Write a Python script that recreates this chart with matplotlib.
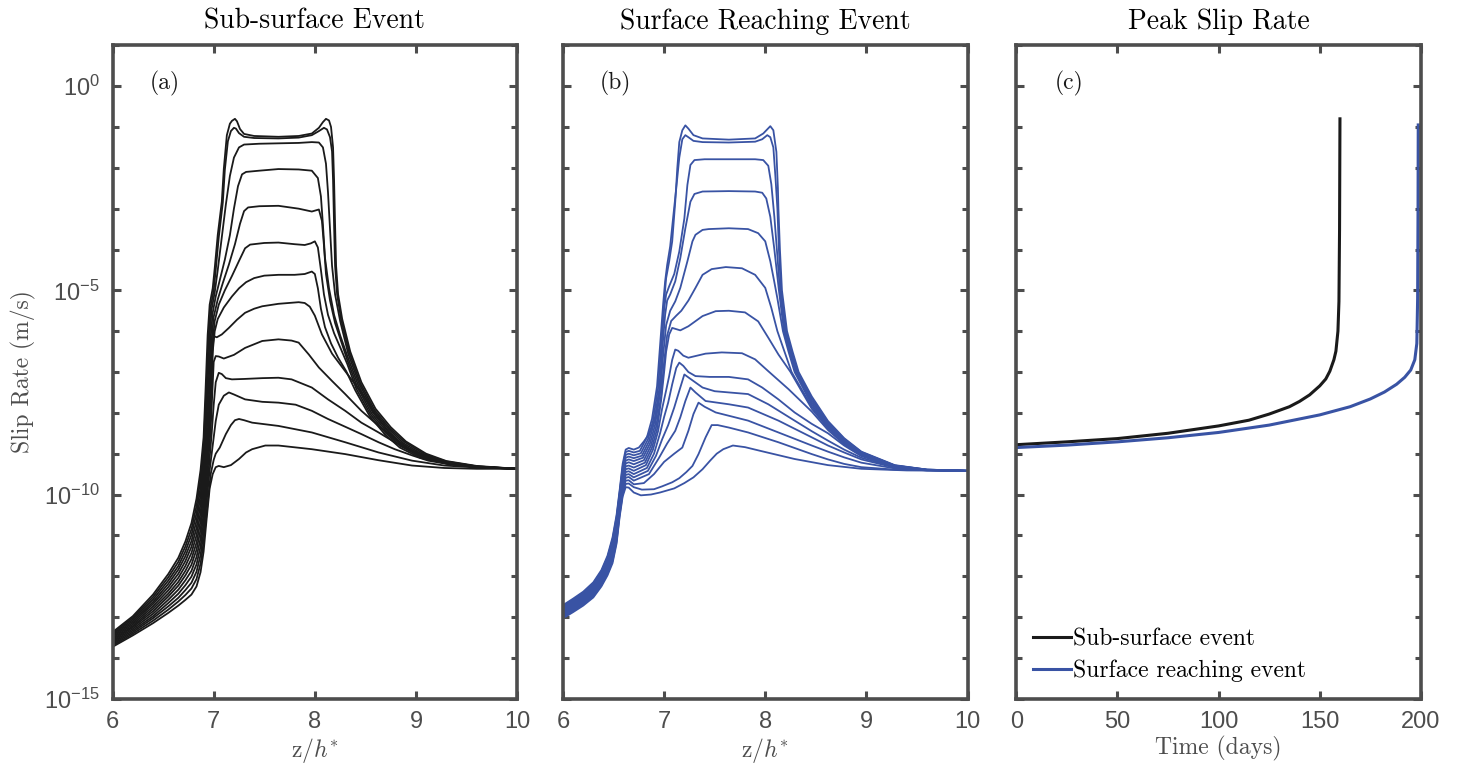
import numpy as np
import matplotlib
matplotlib.use("Agg")
import matplotlib.pyplot as plt
from matplotlib.ticker import FixedLocator, FixedFormatter, NullFormatter

plt.rcParams['mathtext.fontset'] = 'cm'

# slip-rate profiles, (z/h*, log10 V) pairs, one list per snapshot
sub_profiles = [
    [(6.0,-13.37),(6.2,-12.98),(6.4,-12.45),(6.55,-11.95),(6.65,-11.55),(6.72,-11.15),(6.78,-10.7),(6.83,-10.1),(6.87,-9.4),(6.9,-8.6),(6.92,-7.4),(6.94,-6.1),(6.96,-5.35),(6.99,-4.95),(7.01,-4.46),(7.04,-3.64),(7.08,-2.83),(7.10,-2.02),(7.13,-1.2),(7.16,-0.92),(7.18,-0.85),(7.21,-0.80),(7.23,-0.86),(7.26,-1.05),(7.3,-1.17),(7.4,-1.22),(7.64,-1.24),(7.84,-1.22),(7.97,-1.16),(8.04,-1.02),(8.08,-0.88),(8.11,-0.80),(8.14,-0.84),(8.16,-1.0),(8.18,-1.5),(8.19,-2.3),(8.2,-3.4),(8.21,-4.4),(8.23,-5.1),(8.27,-5.7),(8.35,-6.5),(8.46,-7.25),(8.6,-7.9),(8.75,-8.35),(8.9,-8.7),(9.1,-9.0),(9.3,-9.18),(9.6,-9.3),(10.0,-9.37)],
    [(6.0,-13.40),(6.2,-13.02),(6.4,-12.51),(6.55,-12.03),(6.65,-11.65),(6.72,-11.27),(6.78,-10.85),(6.83,-10.28),(6.87,-9.61),(6.9,-8.83),(6.93,-7.3),(6.95,-6.1),(6.97,-5.4),(7.0,-5.0),(7.02,-4.5),(7.05,-3.7),(7.09,-2.85),(7.11,-2.05),(7.14,-1.35),(7.17,-1.1),(7.2,-1.02),(7.22,-1.04),(7.25,-1.15),(7.3,-1.24),(7.4,-1.27),(7.64,-1.28),(7.84,-1.26),(7.97,-1.2),(8.04,-1.1),(8.09,-1.02),(8.12,-1.06),(8.15,-1.25),(8.17,-1.6),(8.18,-2.3),(8.19,-3.4),(8.2,-4.4),(8.22,-5.1),(8.26,-5.72),(8.34,-6.52),(8.45,-7.28),(8.59,-7.93),(8.74,-8.38),(8.89,-8.72),(9.09,-9.02),(9.3,-9.19),(9.6,-9.31),(10.0,-9.37)],
    [(6.0,-13.43),(6.2,-13.06),(6.4,-12.57),(6.55,-12.11),(6.65,-11.75),(6.72,-11.39),(6.78,-10.99),(6.83,-10.46),(6.87,-9.82),(6.9,-9.07),(6.94,-7.3),(6.96,-6.1),(6.98,-5.45),(7.01,-5.05),(7.04,-4.5),(7.08,-3.7),(7.12,-2.9),(7.16,-2.2),(7.2,-1.75),(7.25,-1.5),(7.3,-1.43),(7.45,-1.41),(7.64,-1.40),(7.84,-1.39),(7.97,-1.37),(8.04,-1.38),(8.08,-1.5),(8.11,-1.9),(8.13,-2.6),(8.15,-3.5),(8.17,-4.4),(8.2,-5.1),(8.25,-5.75),(8.33,-6.55),(8.44,-7.3),(8.58,-7.95),(8.73,-8.4),(8.88,-8.75),(9.08,-9.04),(9.3,-9.2),(9.6,-9.31),(10.0,-9.37)],
    [(6.0,-13.46),(6.2,-13.10),(6.4,-12.63),(6.55,-12.19),(6.65,-11.84),(6.72,-11.51),(6.78,-11.14),(6.83,-10.64),(6.87,-10.02),(6.9,-9.30),(6.92,-8.5),(6.95,-7.3),(6.97,-6.15),(6.99,-5.55),(7.02,-5.15),(7.06,-4.75),(7.11,-4.25),(7.16,-3.65),(7.2,-3.0),(7.24,-2.45),(7.28,-2.16),(7.32,-2.1),(7.45,-2.07),(7.64,-2.03),(7.84,-2.04),(7.97,-2.07),(8.03,-2.25),(8.06,-2.7),(8.08,-3.4),(8.1,-4.2),(8.14,-4.95),(8.19,-5.6),(8.25,-6.1),(8.32,-6.6),(8.43,-7.33),(8.57,-7.98),(8.72,-8.43),(8.87,-8.78),(9.07,-9.06),(9.3,-9.21),(9.6,-9.32),(10.0,-9.37)],
    [(6.0,-13.49),(6.2,-13.14),(6.4,-12.68),(6.55,-12.27),(6.65,-11.94),(6.72,-11.63),(6.78,-11.28),(6.83,-10.82),(6.87,-10.23),(6.9,-9.53),(6.93,-8.5),(6.96,-7.3),(6.98,-6.2),(7.0,-5.65),(7.04,-5.22),(7.09,-4.82),(7.15,-4.37),(7.21,-3.87),(7.26,-3.37),(7.3,-3.06),(7.34,-2.97),(7.45,-2.94),(7.64,-2.93),(7.84,-3.0),(7.97,-3.07),(8.04,-3.02),(8.07,-3.3),(8.09,-3.9),(8.11,-4.6),(8.15,-5.25),(8.2,-5.8),(8.26,-6.25),(8.32,-6.7),(8.42,-7.37),(8.56,-8.01),(8.71,-8.46),(8.86,-8.8),(9.06,-9.07),(9.3,-9.22),(9.6,-9.32),(10.0,-9.37)],
    [(6.0,-13.52),(6.2,-13.18),(6.4,-12.74),(6.55,-12.35),(6.65,-12.04),(6.72,-11.75),(6.78,-11.43),(6.83,-11.00),(6.87,-10.44),(6.9,-9.77),(6.94,-8.5),(6.97,-7.3),(6.99,-6.25),(7.01,-5.75),(7.05,-5.35),(7.11,-5.0),(7.18,-4.65),(7.25,-4.28),(7.31,-3.97),(7.36,-3.88),(7.5,-3.84),(7.64,-3.83),(7.8,-3.87),(7.9,-3.89),(7.96,-3.85),(8.0,-3.8),(8.03,-3.95),(8.06,-4.5),(8.09,-5.1),(8.13,-5.6),(8.19,-6.05),(8.26,-6.45),(8.32,-6.8),(8.41,-7.41),(8.55,-8.04),(8.7,-8.49),(8.85,-8.82),(9.05,-9.08),(9.3,-9.23),(9.6,-9.33),(10.0,-9.37)],
    [(6.0,-13.55),(6.2,-13.22),(6.4,-12.80),(6.55,-12.43),(6.65,-12.14),(6.72,-11.87),(6.78,-11.58),(6.83,-11.18),(6.87,-10.65),(6.9,-10.0),(6.92,-9.4),(6.95,-8.5),(6.97,-7.5),(6.99,-6.5),(7.01,-6.0),(7.04,-5.7),(7.1,-5.42),(7.18,-5.15),(7.25,-4.95),(7.32,-4.8),(7.4,-4.7),(7.5,-4.64),(7.64,-4.62),(7.8,-4.62),(7.9,-4.6),(7.97,-4.54),(8.0,-4.6),(8.03,-4.95),(8.06,-5.45),(8.1,-5.9),(8.16,-6.3),(8.23,-6.65),(8.31,-6.98),(8.4,-7.45),(8.54,-8.07),(8.69,-8.52),(8.84,-8.85),(9.04,-9.1),(9.3,-9.24),(9.6,-9.33),(10.0,-9.37)],
    [(6.0,-13.58),(6.2,-13.25),(6.4,-12.86),(6.55,-12.50),(6.65,-12.23),(6.72,-11.98),(6.78,-11.72),(6.83,-11.35),(6.87,-10.86),(6.9,-10.23),(6.93,-9.4),(6.96,-8.4),(6.98,-7.2),(6.99,-6.4),(7.0,-6.12),(7.03,-6.15),(7.08,-6.08),(7.15,-5.92),(7.23,-5.72),(7.31,-5.55),(7.4,-5.45),(7.48,-5.39),(7.64,-5.33),(7.84,-5.29),(7.9,-5.31),(7.95,-5.4),(8.0,-5.62),(8.07,-6.08),(8.17,-6.55),(8.3,-6.98),(8.46,-7.5),(8.6,-8.05),(8.74,-8.5),(8.9,-8.85),(9.1,-9.1),(9.3,-9.24),(9.6,-9.33),(10.0,-9.37)],
    [(6.0,-13.61),(6.2,-13.29),(6.4,-12.92),(6.55,-12.58),(6.65,-12.33),(6.72,-12.10),(6.78,-11.87),(6.83,-11.53),(6.87,-11.07),(6.9,-10.47),(6.94,-9.4),(6.97,-8.4),(6.99,-7.3),(7.0,-6.75),(7.02,-6.61),(7.05,-6.62),(7.1,-6.67),(7.2,-6.58),(7.31,-6.41),(7.48,-6.24),(7.64,-6.2),(7.77,-6.23),(7.84,-6.28),(7.94,-6.57),(8.04,-6.89),(8.17,-7.22),(8.3,-7.54),(8.46,-7.95),(8.63,-8.32),(8.79,-8.64),(8.96,-8.92),(9.15,-9.12),(9.35,-9.25),(9.6,-9.33),(10.0,-9.37)],
    [(6.0,-13.64),(6.2,-13.33),(6.4,-12.98),(6.55,-12.66),(6.65,-12.43),(6.72,-12.22),(6.78,-12.01),(6.83,-11.71),(6.87,-11.27),(6.9,-10.70),(6.95,-9.4),(6.98,-8.5),(7.0,-7.8),(7.02,-7.25),(7.05,-7.02),(7.08,-7.05),(7.12,-7.15),(7.18,-7.18),(7.3,-7.17),(7.48,-7.15),(7.64,-7.14),(7.77,-7.18),(7.97,-7.38),(8.13,-7.67),(8.3,-7.95),(8.46,-8.24),(8.63,-8.48),(8.79,-8.72),(8.96,-8.93),(9.28,-9.21),(9.6,-9.32),(10.0,-9.37)],
    [(6.0,-13.67),(6.2,-13.37),(6.4,-13.03),(6.55,-12.74),(6.65,-12.53),(6.72,-12.34),(6.78,-12.16),(6.83,-11.89),(6.87,-11.48),(6.9,-10.93),(6.96,-9.4),(6.99,-8.8),(7.02,-8.2),(7.05,-7.8),(7.1,-7.58),(7.15,-7.5),(7.2,-7.55),(7.31,-7.67),(7.48,-7.73),(7.64,-7.75),(7.81,-7.8),(7.97,-7.95),(8.13,-8.15),(8.3,-8.34),(8.46,-8.52),(8.63,-8.72),(8.79,-8.89),(8.96,-9.04),(9.12,-9.17),(9.35,-9.27),(9.61,-9.33),(10.0,-9.37)],
    [(6.0,-13.70),(6.2,-13.41),(6.4,-13.09),(6.55,-12.82),(6.65,-12.62),(6.72,-12.46),(6.78,-12.30),(6.83,-12.07),(6.87,-11.69),(6.9,-11.17),(6.97,-9.5),(7.0,-9.15),(7.02,-9.0),(7.06,-8.85),(7.12,-8.52),(7.17,-8.3),(7.21,-8.18),(7.25,-8.15),(7.3,-8.18),(7.38,-8.24),(7.64,-8.32),(7.97,-8.48),(8.3,-8.72),(8.63,-8.97),(8.96,-9.17),(9.28,-9.29),(9.61,-9.34),(10.0,-9.37)],
    [(6.0,-13.73),(6.2,-13.45),(6.4,-13.15),(6.55,-12.90),(6.65,-12.72),(6.72,-12.58),(6.78,-12.45),(6.83,-12.25),(6.87,-11.9),(6.9,-11.4),(6.93,-10.6),(6.96,-9.85),(6.99,-9.5),(7.02,-9.33),(7.05,-9.3),(7.1,-9.33),(7.17,-9.28),(7.25,-9.13),(7.32,-8.97),(7.38,-8.89),(7.51,-8.8),(7.64,-8.8),(7.97,-8.89),(8.3,-9.01),(8.63,-9.16),(8.96,-9.29),(9.28,-9.35),(9.6,-9.37),(10.0,-9.37)],
]

surf_profiles = [
    [(6.0,-12.71),(6.1,-12.55),(6.2,-12.38),(6.3,-12.15),(6.38,-11.85),(6.44,-11.5),(6.49,-11.05),(6.53,-10.5),(6.56,-9.9),(6.59,-9.25),(6.62,-8.9),(6.65,-8.86),(6.7,-8.9),(6.75,-8.85),(6.8,-8.7),(6.85,-8.52),(6.92,-8.11),(6.97,-7.3),(6.98,-6.08),(7.0,-5.27),(7.02,-4.7),(7.05,-4.29),(7.08,-3.8),(7.11,-2.83),(7.13,-2.02),(7.15,-1.37),(7.18,-1.08),(7.21,-0.96),(7.24,-1.04),(7.29,-1.2),(7.38,-1.28),(7.64,-1.31),(7.9,-1.28),(7.98,-1.16),(8.05,-0.98),(8.08,-1.08),(8.11,-1.61),(8.125,-2.5),(8.13,-3.0),(8.145,-4.0),(8.165,-5.0),(8.215,-6.0),(8.27,-6.5),(8.33,-7.0),(8.46,-7.6),(8.62,-8.2),(8.78,-8.62),(8.95,-8.95),(9.28,-9.28),(9.6,-9.39),(10.0,-9.42)],
    [(6.0,-12.73),(6.1,-12.58),(6.2,-12.41),(6.3,-12.18),(6.38,-11.88),(6.44,-11.54),(6.49,-11.10),(6.53,-10.55),(6.56,-9.95),(6.59,-9.32),(6.62,-8.96),(6.65,-8.93),(6.7,-8.97),(6.76,-8.93),(6.83,-8.6),(6.88,-8.15),(6.93,-7.35),(6.96,-6.35),(6.99,-5.35),(7.01,-4.78),(7.03,-4.38),(7.06,-3.92),(7.09,-3.2),(7.12,-2.5),(7.15,-1.75),(7.18,-1.3),(7.21,-1.2),(7.24,-1.25),(7.29,-1.34),(7.38,-1.37),(7.64,-1.38),(7.9,-1.36),(7.97,-1.3),(8.02,-1.2),(8.05,-1.25),(8.08,-1.5),(8.1,-2.2),(8.12,-3.0),(8.135,-4.0),(8.155,-5.0),(8.205,-6.0),(8.26,-6.5),(8.32,-7.0),(8.46,-7.65),(8.62,-8.23),(8.78,-8.64),(8.95,-8.96),(9.28,-9.29),(9.6,-9.39),(10.0,-9.42)],
    [(6.0,-12.76),(6.1,-12.60),(6.2,-12.43),(6.3,-12.21),(6.38,-11.91),(6.44,-11.57),(6.49,-11.15),(6.53,-10.61),(6.56,-10.0),(6.59,-9.39),(6.62,-9.03),(6.65,-9.0),(6.7,-9.04),(6.77,-8.99),(6.84,-8.65),(6.89,-8.2),(6.94,-7.4),(6.97,-6.4),(7.0,-5.45),(7.02,-5.1),(7.05,-4.9),(7.1,-4.6),(7.15,-4.05),(7.2,-3.24),(7.23,-2.42),(7.26,-1.93),(7.3,-1.81),(7.4,-1.79),(7.64,-1.79),(7.9,-1.79),(7.98,-1.81),(8.03,-1.95),(8.06,-2.4),(8.09,-3.2),(8.115,-4.0),(8.145,-5.0),(8.195,-6.0),(8.25,-6.5),(8.31,-7.0),(8.46,-7.7),(8.62,-8.26),(8.78,-8.66),(8.95,-8.97),(9.28,-9.29),(9.6,-9.39),(10.0,-9.42)],
    [(6.0,-12.78),(6.1,-12.63),(6.2,-12.46),(6.3,-12.24),(6.38,-11.94),(6.44,-11.61),(6.49,-11.20),(6.53,-10.66),(6.56,-10.05),(6.59,-9.45),(6.62,-9.1),(6.65,-9.07),(6.7,-9.11),(6.78,-9.05),(6.85,-8.7),(6.9,-8.25),(6.95,-7.45),(6.98,-6.5),(7.01,-5.6),(7.03,-5.25),(7.06,-5.1),(7.11,-4.78),(7.16,-4.21),(7.21,-3.48),(7.26,-2.83),(7.3,-2.64),(7.38,-2.58),(7.64,-2.57),(7.9,-2.58),(7.97,-2.61),(8.01,-2.75),(8.05,-3.2),(8.09,-4.0),(8.135,-5.0),(8.185,-6.0),(8.24,-6.5),(8.3,-7.0),(8.46,-7.75),(8.62,-8.29),(8.78,-8.68),(8.95,-8.98),(9.28,-9.3),(9.6,-9.4),(10.0,-9.42)],
    [(6.0,-12.81),(6.1,-12.65),(6.2,-12.48),(6.3,-12.26),(6.38,-11.97),(6.44,-11.65),(6.49,-11.24),(6.53,-10.72),(6.56,-10.1),(6.59,-9.52),(6.62,-9.17),(6.65,-9.14),(6.7,-9.18),(6.79,-9.1),(6.86,-8.75),(6.91,-8.3),(6.96,-7.5),(6.99,-6.6),(7.02,-5.85),(7.06,-5.5),(7.11,-5.27),(7.16,-4.94),(7.23,-4.29),(7.28,-3.8),(7.31,-3.64),(7.38,-3.52),(7.44,-3.5),(7.64,-3.48),(7.83,-3.5),(7.93,-3.6),(8.0,-3.8),(8.05,-4.29),(8.09,-4.8),(8.12,-5.2),(8.175,-6.0),(8.23,-6.5),(8.29,-7.0),(8.46,-7.8),(8.62,-8.32),(8.78,-8.7),(8.95,-8.99),(9.28,-9.3),(9.6,-9.4),(10.0,-9.42)],
    [(6.0,-12.83),(6.1,-12.68),(6.2,-12.51),(6.3,-12.29),(6.38,-12.00),(6.44,-11.68),(6.49,-11.29),(6.53,-10.77),(6.56,-10.15),(6.59,-9.58),(6.62,-9.24),(6.65,-9.21),(6.7,-9.26),(6.8,-9.16),(6.87,-8.8),(6.92,-8.35),(6.97,-7.6),(7.0,-6.75),(7.03,-6.1),(7.07,-5.75),(7.12,-5.62),(7.17,-5.5),(7.24,-5.25),(7.31,-4.94),(7.38,-4.62),(7.47,-4.48),(7.61,-4.43),(7.77,-4.46),(7.9,-4.62),(8.0,-4.94),(8.06,-5.43),(8.12,-6.0),(8.19,-6.5),(8.26,-7.0),(8.46,-7.85),(8.62,-8.35),(8.78,-8.72),(8.95,-9.0),(9.28,-9.31),(9.6,-9.4),(10.0,-9.42)],
    [(6.0,-12.86),(6.1,-12.70),(6.2,-12.54),(6.3,-12.32),(6.38,-12.03),(6.44,-11.72),(6.49,-11.34),(6.53,-10.82),(6.56,-10.2),(6.59,-9.64),(6.62,-9.31),(6.65,-9.29),(6.7,-9.34),(6.81,-9.22),(6.88,-8.85),(6.93,-8.4),(6.97,-7.7),(7.0,-7.0),(7.02,-6.5),(7.05,-6.08),(7.08,-5.92),(7.12,-5.95),(7.16,-5.98),(7.24,-5.88),(7.38,-5.63),(7.51,-5.51),(7.64,-5.5),(7.8,-5.54),(7.93,-5.76),(8.03,-6.16),(8.13,-6.57),(8.25,-7.0),(8.46,-7.9),(8.62,-8.38),(8.78,-8.74),(8.95,-9.02),(9.28,-9.31),(9.6,-9.4),(10.0,-9.42)],
    [(6.0,-12.88),(6.1,-12.73),(6.2,-12.56),(6.3,-12.35),(6.38,-12.07),(6.44,-11.76),(6.49,-11.39),(6.53,-10.88),(6.56,-10.25),(6.59,-9.7),(6.62,-9.38),(6.65,-9.36),(6.7,-9.42),(6.82,-9.28),(6.89,-8.9),(6.94,-8.45),(6.98,-7.9),(7.02,-7.45),(7.05,-7.1),(7.08,-6.7),(7.11,-6.45),(7.14,-6.48),(7.19,-6.6),(7.24,-6.65),(7.41,-6.55),(7.57,-6.52),(7.77,-6.54),(7.9,-6.69),(8.03,-6.98),(8.23,-7.42),(8.46,-7.97),(8.62,-8.42),(8.78,-8.77),(8.95,-9.04),(9.28,-9.32),(9.6,-9.4),(10.0,-9.42)],
    [(6.0,-12.91),(6.1,-12.75),(6.2,-12.59),(6.3,-12.38),(6.38,-12.10),(6.44,-11.80),(6.49,-11.44),(6.53,-10.93),(6.56,-10.3),(6.59,-9.76),(6.62,-9.45),(6.65,-9.43),(6.7,-9.5),(6.83,-9.35),(6.9,-9.0),(6.96,-8.5),(7.0,-8.1),(7.04,-7.75),(7.08,-7.3),(7.12,-6.9),(7.15,-6.77),(7.19,-6.85),(7.24,-7.0),(7.31,-7.1),(7.45,-7.12),(7.64,-7.12),(7.83,-7.18),(7.97,-7.38),(8.13,-7.67),(8.29,-7.99),(8.46,-8.27),(8.62,-8.5),(8.78,-8.8),(8.95,-9.06),(9.28,-9.32),(9.6,-9.4),(10.0,-9.42)],
    [(6.0,-12.93),(6.1,-12.78),(6.2,-12.61),(6.3,-12.41),(6.38,-12.13),(6.44,-11.83),(6.49,-11.49),(6.53,-10.98),(6.56,-10.35),(6.59,-9.82),(6.62,-9.52),(6.65,-9.5),(6.7,-9.58),(6.84,-9.42),(6.92,-9.05),(6.98,-8.65),(7.04,-8.3),(7.1,-7.87),(7.15,-7.46),(7.2,-7.06),(7.25,-7.15),(7.38,-7.38),(7.5,-7.47),(7.64,-7.5),(7.83,-7.54),(8.03,-7.79),(8.29,-8.19),(8.46,-8.45),(8.62,-8.68),(8.78,-8.9),(8.95,-9.1),(9.28,-9.33),(9.6,-9.4),(10.0,-9.42)],
    [(6.0,-12.96),(6.1,-12.80),(6.2,-12.64),(6.3,-12.43),(6.38,-12.16),(6.44,-11.87),(6.49,-11.54),(6.53,-11.04),(6.56,-10.4),(6.59,-9.88),(6.62,-9.59),(6.65,-9.57),(6.7,-9.66),(6.85,-9.5),(6.95,-9.1),(7.03,-8.75),(7.11,-8.44),(7.16,-8.11),(7.21,-7.71),(7.26,-7.38),(7.31,-7.5),(7.41,-7.71),(7.64,-7.79),(7.83,-7.87),(8.13,-8.19),(8.46,-8.6),(8.62,-8.8),(8.78,-8.97),(8.95,-9.14),(9.28,-9.34),(9.6,-9.41),(10.0,-9.42)],
    [(6.0,-12.98),(6.1,-12.83),(6.2,-12.67),(6.3,-12.46),(6.38,-12.19),(6.44,-11.91),(6.49,-11.58),(6.53,-11.09),(6.56,-10.45),(6.59,-9.94),(6.62,-9.66),(6.65,-9.65),(6.7,-9.75),(6.8,-9.72),(6.9,-9.5),(7.0,-9.2),(7.1,-9.0),(7.18,-8.85),(7.24,-8.44),(7.29,-8.03),(7.34,-7.75),(7.4,-7.85),(7.51,-7.99),(7.83,-8.19),(8.13,-8.48),(8.46,-8.8),(8.62,-8.95),(8.78,-9.09),(8.95,-9.22),(9.28,-9.36),(9.6,-9.41),(10.0,-9.42)],
    [(6.0,-13.0),(6.1,-12.85),(6.2,-12.69),(6.3,-12.49),(6.38,-12.22),(6.44,-11.94),(6.49,-11.63),(6.53,-11.15),(6.56,-10.5),(6.59,-10.0),(6.62,-9.74),(6.65,-9.73),(6.7,-9.82),(6.78,-9.88),(6.9,-9.87),(6.98,-9.8),(7.08,-9.7),(7.15,-9.6),(7.22,-9.45),(7.28,-9.3),(7.34,-9.01),(7.41,-8.6),(7.47,-8.3),(7.53,-8.3),(7.64,-8.36),(7.83,-8.48),(8.13,-8.72),(8.46,-9.01),(8.62,-9.14),(8.78,-9.25),(8.95,-9.33),(9.28,-9.39),(10.0,-9.42)],
    [(6.0,-13.03),(6.1,-12.88),(6.2,-12.72),(6.3,-12.52),(6.38,-12.25),(6.44,-11.98),(6.49,-11.68),(6.53,-11.2),(6.56,-10.55),(6.59,-10.05),(6.62,-9.82),(6.65,-9.83),(6.7,-9.95),(6.77,-10.02),(6.87,-10.0),(6.96,-9.95),(7.1,-9.85),(7.2,-9.72),(7.29,-9.58),(7.38,-9.38),(7.455,-9.17),(7.52,-9.0),(7.585,-8.89),(7.68,-8.8),(7.8,-8.84),(7.95,-8.93),(8.29,-9.13),(8.62,-9.28),(8.95,-9.37),(9.4,-9.41),(10.0,-9.42)],
]

# peak slip rate history (days, log10 V)
t_sub = [0, 25, 50, 75, 100, 115, 125, 135, 140, 145, 150, 153, 155, 157, 158, 159, 159.5, 159.8, 160]
peak_sub = [-8.78, -8.71, -8.63, -8.5, -8.32, -8.18, -8.03, -7.85, -7.72, -7.56, -7.34, -7.17, -6.98, -6.7, -6.49, -6.0, -5.27, -3.5, -0.8]
t_surf = [0, 25, 50, 75, 100, 125, 150, 165, 175, 182, 188, 192, 195, 197, 198, 198.4, 198.6, 198.7]
peak_surf = [-8.85, -8.79, -8.71, -8.61, -8.48, -8.3, -8.05, -7.85, -7.66, -7.49, -7.3, -7.13, -6.95, -6.7, -6.3, -5.2, -3.0, -0.95]

titles = ['Sub-surface Event', 'Surface Reaching Event', 'Peak Slip Rate']
letters = ['(a)', '(b)', '(c)']
ytick_vals = [1e0, 1e-5, 1e-10, 1e-15]
ytick_labels = [r'$\mathdefault{10^{0}}$', r'$\mathdefault{10^{-5}}$',
                r'$\mathdefault{10^{-10}}$', r'$\mathdefault{10^{-15}}$']

black = '#1a1a1a'
blue = '#3953a4'
grey = '#4d4d4d'
cm = 'cmr10'
sans = 'Liberation Sans'

fig = plt.figure(figsize=(14.6, 7.76), dpi=100)
lefts = [0.0771, 0.3856, 0.6961]
axes = [fig.add_axes([l, 0.0996, 0.2771, 0.842]) for l in lefts]

for prof in sub_profiles:
    z, lv = np.array(prof).T
    axes[0].plot(z, 10.0 ** lv, color=black, lw=1.3)
for prof in surf_profiles:
    z, lv = np.array(prof).T
    axes[1].plot(z, 10.0 ** lv, color=blue, lw=1.3)

axes[2].plot(t_sub, 10.0 ** np.array(peak_sub), color=black, lw=2.2, label='Sub-surface event')
axes[2].plot(t_surf, 10.0 ** np.array(peak_surf), color=blue, lw=2.2, label='Surface reaching event')

for i, ax in enumerate(axes):
    ax.set_yscale('log')
    ax.set_ylim(1e-15, 1e1)
    ax.yaxis.set_major_locator(FixedLocator(ytick_vals))
    ax.yaxis.set_minor_locator(FixedLocator([10.0 ** k for k in range(-15, 2)]))
    ax.yaxis.set_minor_formatter(NullFormatter())
    if i == 0:
        ax.yaxis.set_major_formatter(FixedFormatter(ytick_labels))
    else:
        ax.yaxis.set_major_formatter(NullFormatter())
    if i < 2:
        ax.set_xlim(6, 10)
        ax.set_xticks([6, 7, 8, 9, 10])
        ax.set_xlabel(r'z/$h^{*}$', fontfamily=cm, fontsize=17, color=grey, labelpad=2)
    else:
        ax.set_xlim(0, 200)
        ax.set_xticks([0, 50, 100, 150, 200])
        ax.set_xlabel('Time (days)', fontfamily=cm, fontsize=17, color=grey, labelpad=2)
    ax.tick_params(which='both', direction='in', top=True, right=True,
                   color=grey, width=2.2, labelcolor=grey, labelsize=17)
    ax.tick_params(which='major', length=6, pad=9)
    ax.tick_params(which='minor', length=4)
    for lab in ax.get_xticklabels() + ax.get_yticklabels():
        lab.set_fontfamily(sans)
    for sp in ax.spines.values():
        sp.set_color(grey)
        sp.set_linewidth(2.6)
    ax.set_title(titles[i], fontfamily=cm, fontsize=20, color='black', pad=12)
    ax.text(0.13, 0.941, letters[i], transform=ax.transAxes, fontfamily=cm,
            fontsize=17, ha='center', va='center', color=black)

axes[0].set_ylabel('Slip Rate (m/s)', fontfamily=cm, fontsize=17, color=grey, labelpad=6)

leg = axes[2].legend(loc='lower left', frameon=False, prop={'family': cm, 'size': 17},
                     handlelength=1.6, handletextpad=0.1, labelspacing=0.4,
                     borderaxespad=0.3)

fig.savefig('out.png', dpi=100)
